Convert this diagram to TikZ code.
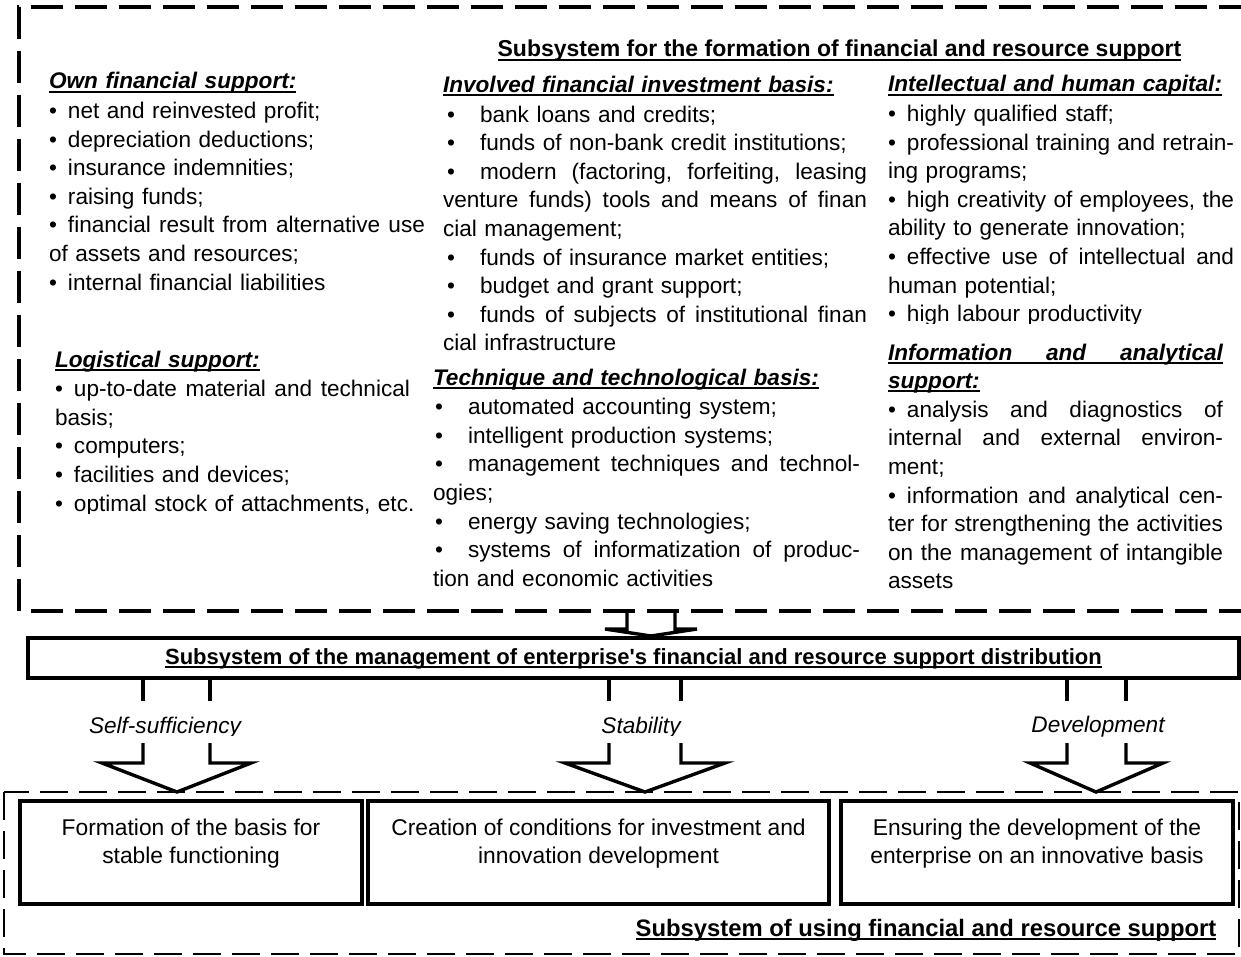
\documentclass[tikz,border=0pt]{standalone}
\usepackage{fontspec}
\setmainfont{Liberation Sans}
\usetikzlibrary{calc}

% underline drawn just below the baseline, crossing descenders
\newsavebox\ulbox
\newcommand\ulx[1]{\leavevmode\sbox\ulbox{#1}\rlap{\rule[-3.6pt]{\wd\ulbox}{2pt}}\usebox\ulbox}
\newcommand\hd[1]{\ulx{\bfseries\itshape #1}}
% bullets: short form and tabbed form
\newcommand\ba{\makebox[19pt][l]{•}}
\newcommand\bb{\makebox[37pt][l]{\hspace{4pt}•}}
% a line stretched to the column width \colw
\newlength\colw
\newcommand\jl[1]{\leavevmode\hbox to \colw{\frenchspacing\spaceskip=0.278em plus 1fil\relax #1}}
\newcommand\bodyfont{\fontsize{22.6pt}{28.6pt}\selectfont}
\newcommand\boxfont{\fontsize{22.8pt}{28pt}\selectfont}

\begin{document}
\begin{tikzpicture}[x=1pt,y=-1pt,
  every node/.style={inner sep=0pt, outer sep=0pt},
  block/.style={anchor=base west, font=\bodyfont, text width=440pt,
    execute at begin node={\setlength\colw{#1}}},
  frameA/.style={draw, line width=4pt, dash pattern=on 32pt off 12pt},
  frameB/.style={draw, line width=2.6pt, dash pattern=on 28pt off 11pt},
  solidbox/.style={draw, line width=3.4pt},
  hollow/.style={draw, line width=3.4pt},
  lbl/.style={anchor=base, font=\fontsize{22.6pt}{27pt}\selectfont\itshape},
  ttl/.style={anchor=base, font=\fontsize{23pt}{28pt}\selectfont\bfseries},
]
\useasboundingbox (0,0) rectangle (1241,957);

% ---------- formation subsystem frame ----------
\draw[frameA, dash phase=10pt] (1241,7) -- (19,7) -- (19,611) -- (1241,611);
\node[ttl] (ttop) at (839.5,57) {\ulx{Subsystem for the formation of financial and resource support}};

\node[block=376pt] (own) at (49,89) {%
\hd{Own financial support:}\\[1pt]
\ba net and reinvested profit;\\
\ba depreciation deductions;\\
\ba insurance indemnities;\\
\ba raising funds;\\
\jl{\ba financial result from alternative use}\\
of assets and resources;\\
\ba internal financial liabilities};

\begin{scope}
\clip (40,330) rectangle (432,513);
\node[block=355pt] (logi) at (55,367) {%
\hd{Logistical support:}\\[1pt]
\jl{\ba up-to-date material and technical}\\
basis;\\
\ba computers;\\
\ba facilities and devices;\\
\ba optimal stock of attachments, etc.};
\end{scope}

\node[block=424pt] (inv) at (443,92.5) {%
\hd{Involved financial investment basis:}\\[1pt]
\bb bank loans and credits;\\
\bb funds of non-bank credit institutions;\\
\jl{\bb modern (factoring, forfeiting, leasing}\\
\jl{venture funds) tools and means of finan}\\
cial management;\\
\bb funds of insurance market entities;\\
\bb budget and grant support;\\
\jl{\bb funds of subjects of institutional finan}\\
cial infrastructure};

\node[block=427pt] (tech) at (433,385) {%
\hd{Technique and technological basis:}\\[1pt]
\hspace{-2pt}\bb automated accounting system;\\
\hspace{-2pt}\bb intelligent production systems;\\
\jl{\hspace{-2pt}\bb management techniques and technol-}\\
ogies;\\
\hspace{-2pt}\bb energy saving technologies;\\
\jl{\hspace{-2pt}\bb systems of informatization of produc-}\\
tion and economic activities};

\begin{scope}
\clip (880,60) rectangle (1241,323);
\node[block=346pt] (intel) at (888,92) {%
\hd{Intellectual and human capital:}\\[1pt]
\ba highly qualified staff;\\
\jl{\ba professional training and retrain-}\\
ing programs;\\
\jl{\ba high creativity of employees, the}\\
ability to generate innovation;\\
\jl{\ba effective use of intellectual and}\\
human potential;\\
\ba high labour productivity};
\end{scope}

\node[block=335pt] (info) at (888,360) {%
\ulx{\jl{\bfseries\itshape Information and analytical}}\\
\hd{support:}\\
\jl{\ba analysis and diagnostics of}\\
\jl{internal and external environ-}\\
ment;\\
\jl{\ba information and analytical cen-}\\
\jl{ter for strengthening the activities}\\
\jl{on the management of intangible}\\
assets};

% ---------- flow into the distribution subsystem ----------
\draw[hollow] (627,611) -- (627,629) -- (605,629) -- (651,636) -- (697,629) -- (675,629) -- (675,611);

\node[solidbox, minimum width=1211pt, minimum height=40pt, text height=17pt, text depth=5pt,
  font=\fontsize{22pt}{26pt}\selectfont\bfseries] (mid) at (633.5,658)
  {\ulx{Subsystem of the management of enterprise\textquotesingle s financial and resource support distribution}};

% ---------- three directions ----------
\draw[hollow] (143,678) -- (143,701);
\draw[hollow] (210,678) -- (210,701);
\draw[hollow] (143,743) -- (143,763) -- (102,763) -- (177,792) -- (251,763) -- (210,763) -- (210,743);

\draw[hollow] (609,678) -- (609,701);
\draw[hollow] (681,678) -- (681,701);
\draw[hollow] (609,743) -- (609,763) -- (565,763) -- (645,792) -- (725,763) -- (681,763) -- (681,743);

\draw[hollow] (1067,678) -- (1067,701);
\draw[hollow] (1126,678) -- (1126,701);
\draw[hollow] (1067,743) -- (1067,763) -- (1030,763) -- (1096,792) -- (1163,763) -- (1126,763) -- (1126,743);

\begin{scope}
\clip (60,700) rectangle (760,735);
\node[lbl] (lself) at (165,733) {Self-sufficiency};
\node[lbl] (lstab) at (641,733) {Stability};
\end{scope}
\node[lbl] (ldev) at (1098,732) {Development};

% ---------- using subsystem ----------
\draw[frameB] (4,792) rectangle (1239,954);

\node[solidbox, minimum width=342pt, minimum height=103pt] (b1) at (191,852.5) {};
\node[solidbox, minimum width=461pt, minimum height=103pt] (b2) at (598.5,852.5) {};
\node[solidbox, minimum width=392pt, minimum height=103pt] (b3) at (1037,852.5) {};

% multi-line centred text sits on the baseline of its last line
\node[anchor=base, align=center, font=\boxfont] (t1) at (191,863) {Formation of the basis for\\stable functioning};
\node[anchor=base, align=center, font=\boxfont] (t2) at (598.5,863) {Creation of conditions for investment and\\innovation development};
\node[anchor=base, align=center, font=\boxfont] (t3) at (1037,863) {Ensuring the development of the\\enterprise on an innovative basis};

\node[anchor=base, font=\fontsize{23.8pt}{28pt}\selectfont\bfseries] (tbot) at (926,936)
  {\ulx{Subsystem of using financial and resource support}};
\end{tikzpicture}
\end{document}
